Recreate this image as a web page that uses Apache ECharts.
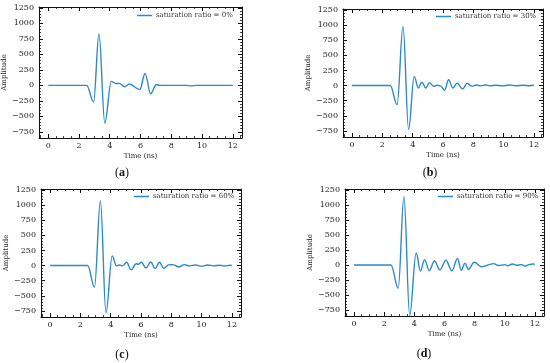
<!DOCTYPE html>
<html>
<head>
<meta charset="utf-8">
<script src="https://cdn.jsdelivr.net/npm/echarts@6/dist/echarts.min.js"></script>
<style>html,body{margin:0;padding:0;background:#fff;}#c{width:550px;height:363px;}</style>
</head>
<body>
<div id="c"></div>
<script>
// ---- data (time in ns, amplitude) ----
const seriesNames = ['saturation ratio = 0%', 'saturation ratio = 30%', 'saturation ratio = 60%', 'saturation ratio = 90%'];
const panelLabels = ['a', 'b', 'c', 'd'];

const timeA = [0, 2.5, 2.95, 3.3, 3.68, 4.1, 4.42, 4.62, 4.97, 5.27, 5.95, 6.3, 6.66, 7.02, 7.25, 9.0, 9.3, 9.6, 12];
const ampA  = [0, 0, -265, 830, -608, 65, 28, 32, -22, 22, -68, 192, -137, 10, 0, 0, -8, 0, 0];

const timeB = [0, 2.52, 2.97, 3.36, 3.73, 4.1, 4.37, 4.6, 4.87, 5.1, 5.37, 5.62, 5.85, 6.1, 6.37, 6.65, 6.93, 7.3, 7.6, 7.9, 8.2, 8.5, 8.8, 9.1, 9.5, 9.9, 10.4, 10.8, 11.3, 11.7, 12];
const ampB  = [0, 0, -314, 978, -725, 152, -40, 55, -40, 48, -12, 5, -5, -80, 95, -40, 40, -55, 38, -10, 8, -5, 10, -5, 5, -5, 8, -3, 5, -3, 5];

const timeC = [0, 2.48, 2.93, 3.32, 3.69, 4.1, 4.38, 4.58, 4.78, 5.05, 5.35, 5.68, 5.82, 6.03, 6.32, 6.65, 6.93, 7.22, 7.5, 7.85, 8.15, 8.5, 8.85, 9.2, 9.6, 10.0, 10.4, 10.8, 11.2, 11.5, 11.9, 12];
const ampC  = [0, 0, -358, 1070, -780, 160, -5, 10, -5, 55, -72, 30, 22, 55, -40, 60, -50, 55, -45, 15, 12, -25, 15, -5, 10, -10, 10, -5, 5, -8, 5, 0];

const timeD = [0, 2.45, 2.93, 3.31, 3.69, 4.12, 4.4, 4.68, 4.99, 5.33, 5.7, 6.09, 6.49, 6.86, 7.11, 7.36, 7.58, 7.97, 8.45, 9.25, 9.6, 10.0, 10.2, 10.5, 10.8, 11.1, 11.35, 11.6, 11.9, 12];
const ampD  = [0, 0, -390, 1135, -840, 200, -100, 88, -95, 67, -82, 78, -98, 108, -88, 30, -75, 45, -30, 22, -10, 5, -15, 15, -5, 5, -20, 5, 18, 8];

const xTicks = [0, 2, 4, 6, 8, 10, 12];
const xMinorTicks = [-0.5, 0.5, 1, 1.5, 2.5, 3, 3.5, 4.5, 5, 5.5, 6.5, 7, 7.5, 8.5, 9, 9.5, 10.5, 11, 11.5, 12.5];
const yTicks = [-750, -500, -250, 0, 250, 500, 750, 1000, 1250];
const yMinorTicks = [-800, -700, -650, -600, -550, -450, -400, -350, -300, -200, -150, -100, -50, 50, 100, 150, 200, 300, 350, 400, 450, 550, 600, 650, 700, 800, 850, 900, 950, 1050, 1100, 1150, 1200];

const times = [timeA, timeB, timeC, timeD];
const amps = [ampA, ampB, ampC, ampD];

// ---- layout ----
const X_MIN = -0.6, X_MAX = 12.6, Y_MIN = -850, Y_MAX = 1265;
const grids = [
  {left: 39, top: 7, width: 203, height: 131},
  {left: 343, top: 9, width: 200, height: 128},
  {left: 41, top: 189, width: 200, height: 128},
  {left: 345, top: 189, width: 199, height: 127}
];
const legendPos = [
  {left: 137, top: 12},
  {left: 436, top: 13},
  {left: 134, top: 193},
  {left: 438, top: 193}
];
const captionPos = [[122, 173], [430, 173], [122, 355], [424, 354]];

const FONT = '"DejaVu Serif", serif';
const LINE = '#2b89cc';
const fmt = v => v < 0 ? '\u2212' + Math.abs(v) : String(v);
const frameLine = {show: true, onZero: false, lineStyle: {color: '#111', width: 1}};

const xAxes = [], yAxes = [], series = [], legends = [], graphics = [];
grids.forEach((g, i) => {
  const base = {gridIndex: i, type: 'value', min: X_MIN, max: X_MAX, splitLine: {show: false}};
  xAxes.push(Object.assign({}, base, {
    position: 'bottom', axisLine: frameLine,
    axisTick: {inside: true, length: 4, customValues: xTicks, lineStyle: {color: '#111', width: 1}},
    axisLabel: {customValues: xTicks, formatter: fmt, fontFamily: FONT, fontSize: 8, color: '#222', margin: 4},
    name: 'Time (ns)', nameLocation: 'middle', nameGap: 15,
    nameTextStyle: {fontFamily: FONT, fontSize: 7, color: '#222'}
  }));
  const mainX = xAxes.length - 1;
  xAxes.push(Object.assign({}, base, {position: 'top', axisLine: frameLine,
    axisTick: {inside: true, length: 4, customValues: xTicks, lineStyle: {color: '#111', width: 1}},
    axisLabel: {show: false}}));
  xAxes.push(Object.assign({}, base, {position: 'bottom', axisLine: {show: false, onZero: false},
    axisTick: {inside: true, length: 2, customValues: xMinorTicks, lineStyle: {color: '#111', width: 0.8}},
    axisLabel: {show: false}}));
  xAxes.push(Object.assign({}, base, {position: 'top', axisLine: {show: false, onZero: false},
    axisTick: {inside: true, length: 2, customValues: xMinorTicks, lineStyle: {color: '#111', width: 0.8}},
    axisLabel: {show: false}}));

  const ybase = {gridIndex: i, type: 'value', min: Y_MIN, max: Y_MAX, splitLine: {show: false}};
  yAxes.push(Object.assign({}, ybase, {
    position: 'left', axisLine: frameLine,
    axisTick: {inside: true, length: 4, customValues: yTicks, lineStyle: {color: '#111', width: 1}},
    axisLabel: {customValues: yTicks, formatter: fmt, fontFamily: FONT, fontSize: 8, color: '#222', margin: 5},
    name: 'Amplitude', nameLocation: 'middle', nameGap: 28,
    nameTextStyle: {fontFamily: FONT, fontSize: 7, color: '#222'}
  }));
  const mainY = yAxes.length - 1;
  yAxes.push(Object.assign({}, ybase, {position: 'right', axisLine: frameLine,
    axisTick: {inside: true, length: 4, customValues: yTicks, lineStyle: {color: '#111', width: 1}},
    axisLabel: {show: false}}));
  yAxes.push(Object.assign({}, ybase, {position: 'left', axisLine: {show: false, onZero: false},
    axisTick: {inside: true, length: 2, customValues: yMinorTicks, lineStyle: {color: '#111', width: 0.8}},
    axisLabel: {show: false}}));
  yAxes.push(Object.assign({}, ybase, {position: 'right', axisLine: {show: false, onZero: false},
    axisTick: {inside: true, length: 2, customValues: yMinorTicks, lineStyle: {color: '#111', width: 0.8}},
    axisLabel: {show: false}}));

  series.push({
    type: 'line', name: seriesNames[i], xAxisIndex: mainX, yAxisIndex: mainY,
    data: times[i].map((t, k) => [t, amps[i][k]]),
    smooth: 0.37, smoothMonotone: 'x', symbol: 'none', showSymbol: false,
    lineStyle: {color: LINE, width: 1.4}, itemStyle: {color: LINE},
    animation: false, clip: true
  });

  legends.push({
    data: [seriesNames[i]], left: legendPos[i].left, top: legendPos[i].top,
    padding: 0, icon: 'rect', itemWidth: 15, itemHeight: 1.5, itemGap: 5,
    itemStyle: {color: LINE},
    textStyle: {fontFamily: FONT, fontSize: 7, color: '#333', padding: [0, 0, 0, -1]}
  });

  graphics.push({
    type: 'text', x: captionPos[i][0], y: captionPos[i][1],
    style: {
      text: '{p|(}{b|' + panelLabels[i] + '}{p|)}',
      align: 'center', verticalAlign: 'middle',
      rich: {
        p: {fontFamily: '"Liberation Serif", serif', fontSize: 12, fill: '#111'},
        b: {fontFamily: '"Liberation Serif", serif', fontSize: 12, fontWeight: 'bold', fill: '#111'}
      }
    }
  });
});

const chart = echarts.init(document.getElementById('c'), null, {renderer: 'canvas'});
chart.setOption({
  animation: false,
  backgroundColor: '#fff',
  grid: grids,
  xAxis: xAxes,
  yAxis: yAxes,
  legend: legends,
  series: series,
  graphic: graphics
});
</script>
</body>
</html>
